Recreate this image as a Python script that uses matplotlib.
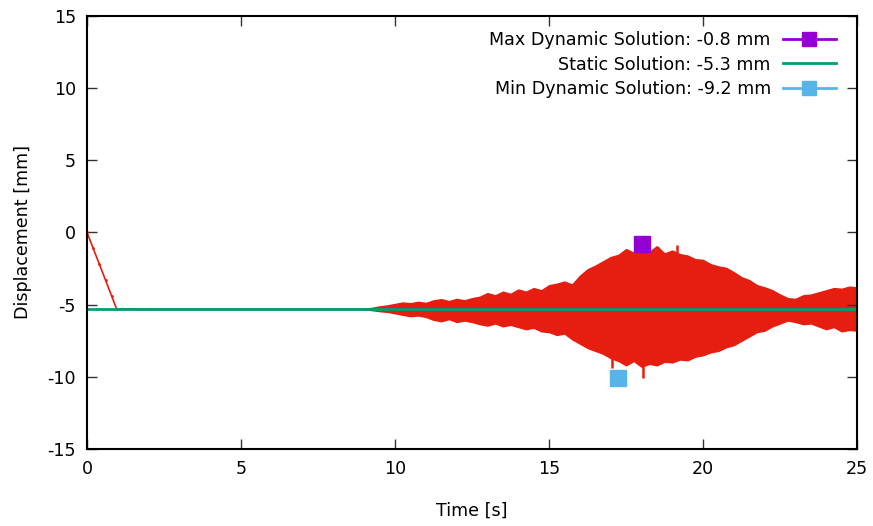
import matplotlib.pyplot as plt
from matplotlib.ticker import FuncFormatter

plt.rcParams['font.family'] = ['DejaVu Sans']
plt.rcParams['axes.unicode_minus'] = False

# initial drop from rest to the static position
t_drop = [0.0, 0.2, 0.4, 0.6, 0.8, 0.96, 2.0, 9.0]
y_drop = [0.0, -1.1, -2.2, -3.3, -4.4, -5.3, -5.33, -5.33]

# envelope of the dynamic response (every 0.25 s)
t_env = [9.0, 9.25, 9.5, 9.75, 10.0, 10.25, 10.5, 10.75, 11.0, 11.25, 11.5, 11.75,
         12.0, 12.25, 12.5, 12.75, 13.0, 13.25, 13.5, 13.75, 14.0, 14.25, 14.5, 14.75,
         15.0, 15.25, 15.5, 15.75, 16.0, 16.25, 16.5, 16.75, 17.0, 17.25, 17.5, 17.75,
         18.0, 18.25, 18.5, 18.75, 19.0, 19.25, 19.5, 19.75, 20.0, 20.25, 20.5, 20.75,
         21.0, 21.25, 21.5, 21.75, 22.0, 22.25, 22.5, 22.75, 23.0, 23.25, 23.5, 23.75,
         24.0, 24.25, 24.5, 24.75, 25.0]
upper = [-5.28, -5.22, -5.12, -5.05, -4.95, -4.85, -4.9, -4.8, -4.88, -4.7, -4.62, -4.75,
         -4.6, -4.7, -4.55, -4.45, -4.2, -4.35, -4.1, -4.25, -3.95, -4.1, -3.85, -4.0,
         -3.65, -3.55, -3.4, -3.6, -3.0, -2.55, -2.3, -2.0, -1.7, -1.55, -1.15, -1.4,
         -1.05, -1.35, -0.95, -1.45, -1.25, -1.5, -1.6, -1.85, -1.9, -2.2, -2.35, -2.45,
         -2.75, -3.1, -3.3, -3.65, -3.8, -4.0, -4.3, -4.55, -4.6, -4.35, -4.3, -4.15,
         -4.0, -3.85, -3.9, -3.75, -3.8]
lower = [-5.33, -5.38, -5.45, -5.5, -5.6, -5.7, -5.8, -5.75, -5.85, -6.05, -6.15, -6.0,
         -6.2, -6.1, -6.2, -6.35, -6.45, -6.3, -6.5, -6.4, -6.55, -6.7, -6.6, -6.85,
         -6.9, -7.1, -7.0, -7.4, -7.7, -8.0, -8.2, -8.4, -8.7, -8.9, -9.2, -8.9,
         -9.3, -9.1, -9.2, -8.95, -9.0, -8.8, -8.85, -8.6, -8.5, -8.3, -8.2, -7.95,
         -7.8, -7.5, -7.2, -6.9, -6.8, -6.5, -6.3, -6.1, -6.2, -6.35, -6.3, -6.5,
         -6.7, -6.55, -6.85, -6.75, -6.8]

# a few isolated peaks that stick out of the envelope
spike_t = [17.05, 18.05, 19.15, 18.55]
spike_y = [-9.4, -10.1, -0.9, -1.0]

static_val = -5.3
max_pt = (18.03, -0.82)
min_pt = (17.23, -10.06)

red = '#e51e10'
purple = '#9400d3'
green = '#009e73'
blue = '#56b4e9'

fig = plt.figure(figsize=(8.73, 5.26), dpi=100)
ax = fig.add_axes([0.0997, 0.1464, 0.882, 0.8232])

ax.plot(t_drop, y_drop, color=red, lw=1.2, marker='.', ms=2)
ax.fill_between(t_env, lower, upper, color=red, lw=1.0, edgecolor=red)
ax.vlines(spike_t, static_val, spike_y, color=red, lw=1.8)

ax.plot([0, 25], [static_val, static_val], color=green, lw=2,
        label='Static Solution: -5.3 mm')
ax.plot([max_pt[0]], [max_pt[1]], color=purple, marker='s', ms=12, lw=2,
        label='Max Dynamic Solution: -0.8 mm')
ax.plot([min_pt[0]], [min_pt[1]], color=blue, marker='s', ms=12, lw=2,
        label='Min Dynamic Solution: -9.2 mm')

h, l = ax.get_legend_handles_labels()
order = [1, 0, 2]
leg = ax.legend([h[i] for i in order], [l[i] for i in order], loc='upper right',
                bbox_to_anchor=(0.988, 0.993),
                frameon=False, markerfirst=False, fontsize=12.6, handlelength=3.0,
                handletextpad=0.7, labelspacing=0.36, borderaxespad=0.3,
                markerscale=0.85)

ax.set_xlim(0, 25)
ax.set_ylim(-15, 15)
ax.set_xticks([0, 5, 10, 15, 20, 25])
ax.set_yticks([-15, -10, -5, 0, 5, 10, 15])
ax.yaxis.set_major_formatter(FuncFormatter(lambda v, p: '%d' % v))
ax.tick_params(direction='in', length=7, width=1, color='#333333', labelsize=12.6,
               top=True, right=True, pad=8)
for s in ax.spines.values():
    s.set_linewidth(1.5)

ax.set_xlabel('Time [s]', fontsize=12.6, labelpad=17)
ax.set_ylabel('Displacement [mm]', fontsize=12.6, labelpad=11)

fig.savefig('out.png', dpi=100)
